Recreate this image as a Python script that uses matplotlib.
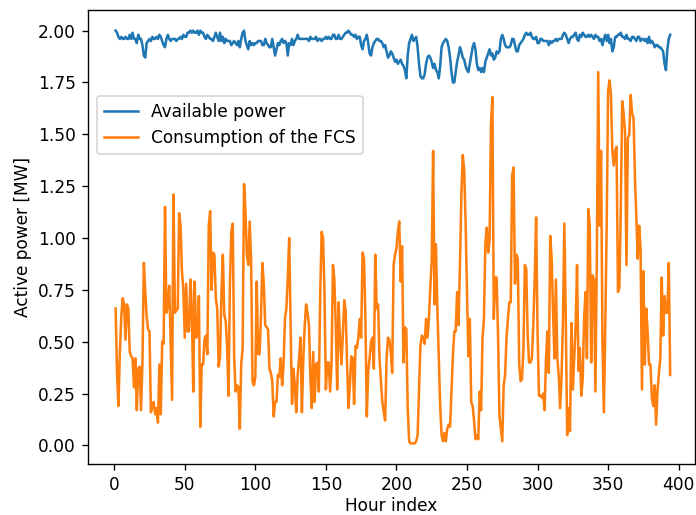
import numpy as np
import matplotlib
matplotlib.use("Agg")
import matplotlib.pyplot as plt

available_power = [
    2.00, 1.99, 1.97, 1.96, 1.97, 1.96, 1.96, 1.97, 1.96, 1.96,
    1.98, 1.96, 1.99, 1.96, 1.96, 1.94, 1.98, 1.96, 1.96, 1.93,
    1.88, 1.87, 1.94, 1.95, 1.96, 1.95, 1.97, 1.96, 1.96, 1.97,
    1.96, 1.98, 1.97, 1.95, 1.93, 1.92, 1.96, 1.98, 1.96, 1.95,
    1.96, 1.96, 1.96, 1.95, 1.96, 1.96, 1.97, 1.96, 1.98, 1.97,
    1.97, 1.99, 1.99, 2.00, 1.99, 2.00, 1.99, 1.99, 2.00, 1.98,
    2.00, 1.99, 1.99, 1.97, 1.96, 1.98, 1.97, 1.96, 1.96, 1.95,
    1.97, 1.99, 1.97, 1.95, 1.99, 1.95, 1.97, 1.94, 1.96, 1.95,
    1.95, 1.95, 1.93, 1.94, 1.95, 1.94, 1.93, 1.95, 1.92, 1.96,
    1.99, 2.00, 1.95, 1.93, 1.91, 1.95, 1.93, 1.94, 1.93,
    1.94, 1.94, 1.95, 1.95, 1.95, 1.93, 1.93, 1.96, 1.94, 1.93, 1.92,
    1.92, 1.96, 1.92, 1.88, 1.91, 1.94, 1.93, 1.95, 1.96, 1.94,
    1.95, 1.94, 1.88, 1.94, 1.93, 1.96, 1.93, 1.95, 1.96, 1.98,
    1.96, 1.96, 1.96, 1.96, 1.96, 1.96, 1.96, 1.95, 1.97, 1.96,
    1.96, 1.96, 1.97, 1.95, 1.96, 1.96, 1.95, 1.96, 1.96, 1.97,
    1.96, 1.97, 1.96, 1.96, 1.98, 1.98, 1.96, 1.96, 1.98, 1.96,
    1.96, 1.97, 1.98, 1.99, 1.99, 2.00, 1.99, 1.98, 1.98, 1.97,
    1.98, 1.96, 1.97, 1.97, 1.93, 1.91, 1.95, 1.96, 1.98, 1.94,
    1.89, 1.88, 1.92, 1.94, 1.95, 1.96, 1.96, 1.95, 1.95, 1.94,
    1.92, 1.93, 1.90, 1.87, 1.88, 1.90, 1.89, 1.87, 1.85, 1.86,
    1.84, 1.85, 1.86, 1.84, 1.83, 1.81, 1.77, 1.88, 1.94, 1.96,
    1.98, 1.95, 1.96, 1.97, 1.92, 1.84, 1.78, 1.77, 1.77, 1.79,
    1.84, 1.87, 1.88, 1.87, 1.85, 1.82, 1.84, 1.81, 1.80, 1.77,
    1.83, 1.92, 1.94, 1.95, 1.96, 1.95, 1.92, 1.87, 1.80, 1.75,
    1.75, 1.80, 1.85, 1.88, 1.92, 1.90, 1.87, 1.86, 1.83, 1.81,
    1.80, 1.84, 1.88, 1.92, 1.94, 1.91, 1.84, 1.81, 1.82, 1.80,
    1.82, 1.80, 1.85, 1.87, 1.89, 1.91, 1.88, 1.89, 1.86, 1.87,
    1.90, 1.89, 1.90, 1.96, 1.98, 1.96, 1.93, 1.92, 1.92, 1.92,
    1.93, 1.96, 1.96, 1.93, 1.90, 1.90, 1.93, 1.94, 1.95, 1.96,
    1.98, 1.99, 1.98, 1.98, 1.99, 1.97, 1.96, 1.96, 1.97, 1.94,
    1.94, 1.96, 1.96, 1.95, 1.95, 1.95, 1.95, 1.93, 1.95, 1.94,
    1.95, 1.95, 1.96, 1.95, 1.96, 1.96, 1.96, 1.98, 1.99, 1.98,
    1.96, 1.94, 1.96, 1.97, 1.97, 1.98, 1.99, 1.96, 1.95, 1.98,
    1.97, 1.99, 1.98, 1.97, 1.97, 1.98, 1.97, 1.98, 1.97, 1.96,
    1.98, 1.97, 1.97, 1.95, 1.96, 1.93, 1.96, 1.98, 1.95, 1.98,
    1.94, 1.96, 1.90, 1.92, 1.97, 1.97, 1.98, 1.98, 1.99, 1.97,
    1.97, 1.96, 1.98, 1.96, 1.96, 1.95, 1.97, 1.97, 1.96, 1.95,
    1.97, 1.97, 1.95, 1.96, 1.96, 1.95, 1.96, 1.94, 1.97, 1.94,
    1.95, 1.94, 1.92, 1.93, 1.93, 1.92, 1.92, 1.91, 1.90, 1.84,
    1.81, 1.91, 1.96, 1.98,
]

fcs_consumption = [
    0.66, 0.35, 0.19, 0.45, 0.62, 0.71, 0.68, 0.51, 0.68, 0.66,
    0.45, 0.43, 0.42, 0.28, 0.42, 0.17, 0.37, 0.38, 0.17, 0.40,
    0.88, 0.74, 0.62, 0.56, 0.55, 0.16, 0.19, 0.21, 0.15, 0.18,
    0.11, 0.39, 0.15, 0.50, 0.49, 1.15, 0.64, 0.68, 0.77, 0.50,
    0.22, 1.21, 0.64, 0.65, 0.66, 1.12,
    1.06, 0.84, 0.75, 0.52,
    0.78, 0.55, 0.55, 0.80, 0.66, 0.26, 0.79, 0.52, 0.53, 0.72,
    0.09, 0.39, 0.39, 0.51, 0.53, 0.44, 1.06, 1.13, 0.75, 0.93,
    0.92, 0.71, 0.66, 0.38, 0.43, 0.74, 0.92, 0.63, 0.60, 0.48,
    0.24, 0.78, 1.03, 1.07, 0.43, 0.26, 0.29, 0.28, 0.08, 0.39,
    0.47, 1.26, 1.13, 0.92, 0.87, 1.08, 0.90, 0.31, 0.29,
    0.33, 0.79, 0.44, 0.44, 0.62, 0.88, 0.78, 0.58, 0.57, 0.56, 0.37,
    0.35, 0.31, 0.14, 0.21, 0.21, 0.34, 0.33, 0.42, 0.29, 0.39,
    0.61, 0.66, 0.81, 1.00, 0.58, 0.20, 0.37, 0.29, 0.16, 0.34,
    0.42, 0.52, 0.16, 0.42, 0.58, 0.68, 0.64, 0.58, 0.33, 0.18,
    0.45, 0.21, 0.39, 0.40, 0.26, 0.74, 1.03, 1.00, 0.74, 0.27,
    0.40, 0.40, 0.26, 0.40, 0.87, 0.80, 0.58, 0.27, 0.69, 0.52,
    0.39, 0.53, 0.70, 0.65, 0.40, 0.18, 0.29, 0.43, 0.42, 0.20,
    0.48, 0.47, 0.52, 0.61, 0.52, 0.93, 0.90, 0.62, 0.14, 0.36,
    0.42, 0.50, 0.52, 0.37, 0.92, 0.66, 0.68, 0.42, 0.31, 0.21,
    0.16, 0.12, 0.42, 0.52, 0.51, 0.45, 0.35, 0.87, 0.92, 0.95,
    1.03, 1.08, 0.79, 0.96, 0.40, 0.57, 0.56, 0.18, 0.02, 0.01,
    0.01, 0.01, 0.01, 0.02, 0.05, 0.26, 0.48, 0.53, 0.52, 0.49,
    0.61, 0.52, 0.61, 0.76, 0.89, 1.42, 0.68, 0.97, 0.66, 0.42,
    0.19, 0.05, 0.02, 0.06, 0.02, 0.08, 0.10, 0.09, 0.26, 0.43,
    0.55, 0.55, 0.74, 0.58, 0.87, 1.20, 1.40, 1.33, 1.08, 0.74,
    0.43, 0.61, 0.21, 0.19, 0.12, 0.03, 0.05, 0.03, 0.26, 0.17,
    0.52, 0.61, 0.97, 1.05, 0.93, 0.99, 1.55, 1.68, 0.61, 0.81,
    0.81, 0.53, 0.14, 0.08, 0.02, 0.29, 0.34, 0.52, 0.61, 0.69,
    0.69, 1.30, 1.34, 0.78, 0.92, 0.90, 0.39, 0.31, 0.32, 0.47,
    0.87, 0.85, 0.53, 0.40, 0.40, 0.42, 0.58, 0.81, 1.10, 0.55,
    0.24, 0.24, 0.23, 0.25, 0.17, 0.42, 0.55, 0.35, 1.01, 0.90,
    0.64, 0.42, 0.80, 0.42, 0.34, 0.18, 0.33, 0.60, 1.07, 0.61,
    0.05, 0.18, 0.07, 0.59, 0.27, 0.42, 0.58, 0.87, 0.36, 0.47,
    0.24, 0.32, 0.61, 0.74, 0.42, 1.14, 1.06, 0.40, 0.82, 0.80,
    0.26, 0.90, 1.80, 1.06, 1.42, 0.50, 0.16, 0.58, 1.06, 1.71,
    1.76, 1.69, 1.42, 1.35, 1.42, 1.44, 0.74, 0.76, 1.14, 1.66,
    1.60, 1.51, 0.87, 1.48, 1.50, 1.69, 1.60, 1.58, 1.30, 1.10,
    0.90, 1.06, 0.95, 0.27, 0.84, 0.39, 0.66, 0.55, 0.39, 0.39,
    0.23, 0.19, 0.29, 0.10, 0.26, 0.35, 0.42, 0.81, 0.53, 0.72,
    0.64, 0.64, 0.88, 0.34,
]

n = min(len(available_power), len(fcs_consumption))
hours = np.arange(1, n + 1)

DPI = 122
fig = plt.figure(figsize=(696 / DPI, 515 / DPI), dpi=DPI)
ax = fig.add_axes([0.1264, 0.0990, 0.8722, 0.8816])
ax.plot(hours, available_power[:n], label="Available power")
ax.plot(hours, fcs_consumption[:n], label="Consumption of the FCS")
ax.set_xlim(-18.6, 411.6)
ax.set_xlabel("Hour index", labelpad=2.0)
ax.set_ylabel("Active power [MW]", labelpad=3.5)
ax.legend(loc="upper left", bbox_to_anchor=(0.001, 0.829))
fig.savefig("out.png", dpi=DPI)
